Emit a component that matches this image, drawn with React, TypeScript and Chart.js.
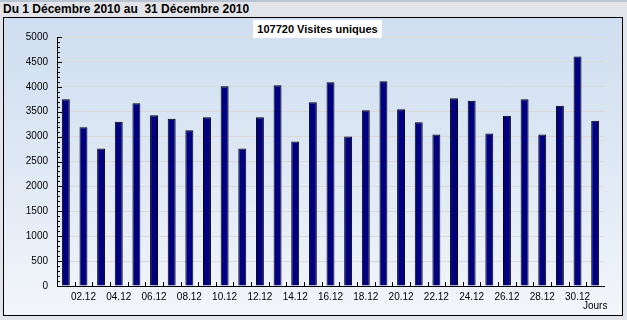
import React, { useEffect, useRef } from "react";
import { Chart, registerables } from "chart.js";

Chart.register(...registerables);

const days: string[] = [
  "01.12", "02.12", "03.12", "04.12", "05.12", "06.12", "07.12", "08.12", "09.12", "10.12",
  "11.12", "12.12", "13.12", "14.12", "15.12", "16.12", "17.12", "18.12", "19.12", "20.12",
  "21.12", "22.12", "23.12", "24.12", "25.12", "26.12", "27.12", "28.12", "29.12", "30.12", "31.12",
];
const visits: number[] = [
  3750, 3190, 2760, 3300, 3670, 3430, 3360, 3130, 3390, 4010,
  2760, 3390, 4030, 2900, 3690, 4090, 3000, 3530, 4110, 3550,
  3290, 3040, 3770, 3720, 3060, 3420, 3750, 3040, 3620, 4610, 3320,
];
const titleText = "Du 1 Décembre 2010 au  31 Décembre 2010";
const legendText = "107720 Visites uniques";
const xAxisTitle = "Jours";
const yMax = 5000;
const yStep = 500;
const yMinorStep = 100;

const FONT = "'Liberation Sans Narrow', 'Liberation Sans', Arial, sans-serif";

const tickPlugin = {
  id: "innerTicks",
  afterDraw(chart: any) {
    const ctx = chart.ctx;
    const y = chart.scales.y;
    const x = chart.scales.x;
    const left = chart.chartArea.left;
    const bottom = chart.chartArea.bottom;
    ctx.save();
    ctx.strokeStyle = "#000";
    ctx.lineWidth = 1;
    ctx.beginPath();
    for (let v = 0; v <= yMax; v += yMinorStep) {
      const py = Math.round(y.getPixelForValue(v)) + 0.5;
      const len = v % yStep === 0 ? 5 : 3;
      ctx.moveTo(left, py);
      ctx.lineTo(left + len, py);
    }
    const n = days.length;
    for (let i = 1; i < n; i++) {
      const px = Math.round((x.getPixelForValue(i - 1) + x.getPixelForValue(i)) / 2) + 0.5;
      ctx.moveTo(px, bottom);
      ctx.lineTo(px, bottom - 4);
    }
    ctx.stroke();
    ctx.restore();
  },
};

export default function App() {
  const ref = useRef<HTMLCanvasElement | null>(null);

  useEffect(() => {
    if (!ref.current) return;
    const chart = new Chart(ref.current, {
      type: "bar",
      data: {
        labels: days,
        datasets: [
          {
            label: legendText,
            data: visits,
            backgroundColor: "#000080",
            borderColor: "#000000",
            borderWidth: 1,
            barPercentage: 0.45,
            categoryPercentage: 1,
          },
        ],
      },
      options: {
        animation: false,
        responsive: false,
        maintainAspectRatio: false,
        layout: { padding: { left: 0, top: 37, right: 23, bottom: 0 } },
        plugins: {
          legend: { display: false },
          tooltip: { enabled: false },
          title: { display: false },
        },
        scales: {
          x: {
            offset: true,
            grid: { display: false, drawTicks: false },
            border: { color: "#000", width: 1 },
            ticks: {
              autoSkip: false,
              maxRotation: 0,
              minRotation: 0,
              padding: 5,
              color: "#000",
              font: { family: FONT, size: 10 },
              callback: (_v: any, i: number) => (i % 2 === 1 ? days[i] : ""),
            },
            afterFit: (s: any) => {
              s.height = 34;
            },
          },
          y: {
            min: 0,
            max: yMax,
            grid: { color: "#d9d9d9", drawTicks: false },
            border: { color: "#000", width: 1 },
            ticks: {
              stepSize: yStep,
              padding: 9,
              color: "#000",
              font: { family: FONT, size: 10 },
              callback: (v: any) => String(v),
            },
            afterFit: (s: any) => {
              s.width = 57;
            },
          },
        },
      },
      plugins: [tickPlugin],
    });
    return () => chart.destroy();
  }, []);

  return (
    <div
      style={{
        position: "fixed",
        left: 0,
        top: 0,
        width: 627,
        height: 320,
        background: "#e3e4e9",
        overflow: "hidden",
        fontFamily: "'Liberation Sans', Arial, sans-serif",
      }}
    >
      <div style={{ position: "absolute", left: 0, top: 0, width: 627, height: 2, background: "#b9c4d3" }} />
      <div
        style={{
          position: "absolute",
          left: 3,
          top: 2,
          fontSize: 12,
          fontWeight: "bold",
          lineHeight: "14px",
          whiteSpace: "pre",
          color: "#000",
        }}
      >
        {titleText}
      </div>
      <div
        style={{
          position: "absolute",
          left: 3,
          top: 17,
          width: 620,
          height: 299,
          boxSizing: "border-box",
          border: "1px solid #000",
          background: "linear-gradient(to bottom, #cfdef0 0%, #e4ecf6 65%, #f3f6fa 100%)",
        }}
      />
      <canvas ref={ref} width={627} height={320} style={{ position: "absolute", left: 0, top: 0, width: 627, height: 320 }} />
      <div
        style={{
          position: "absolute",
          left: 253,
          top: 20,
          width: 129,
          height: 18,
          background: "#fff",
          fontSize: 11,
          fontWeight: "bold",
          lineHeight: "18px",
          textAlign: "center",
          color: "#000",
          whiteSpace: "pre",
        }}
      >
        {legendText}
      </div>
      <div
        style={{
          position: "absolute",
          left: 583,
          top: 300,
          fontSize: 10,
          lineHeight: "12px",
          fontFamily: FONT,
          color: "#000",
        }}
      >
        {xAxisTitle}
      </div>
    </div>
  );
}
